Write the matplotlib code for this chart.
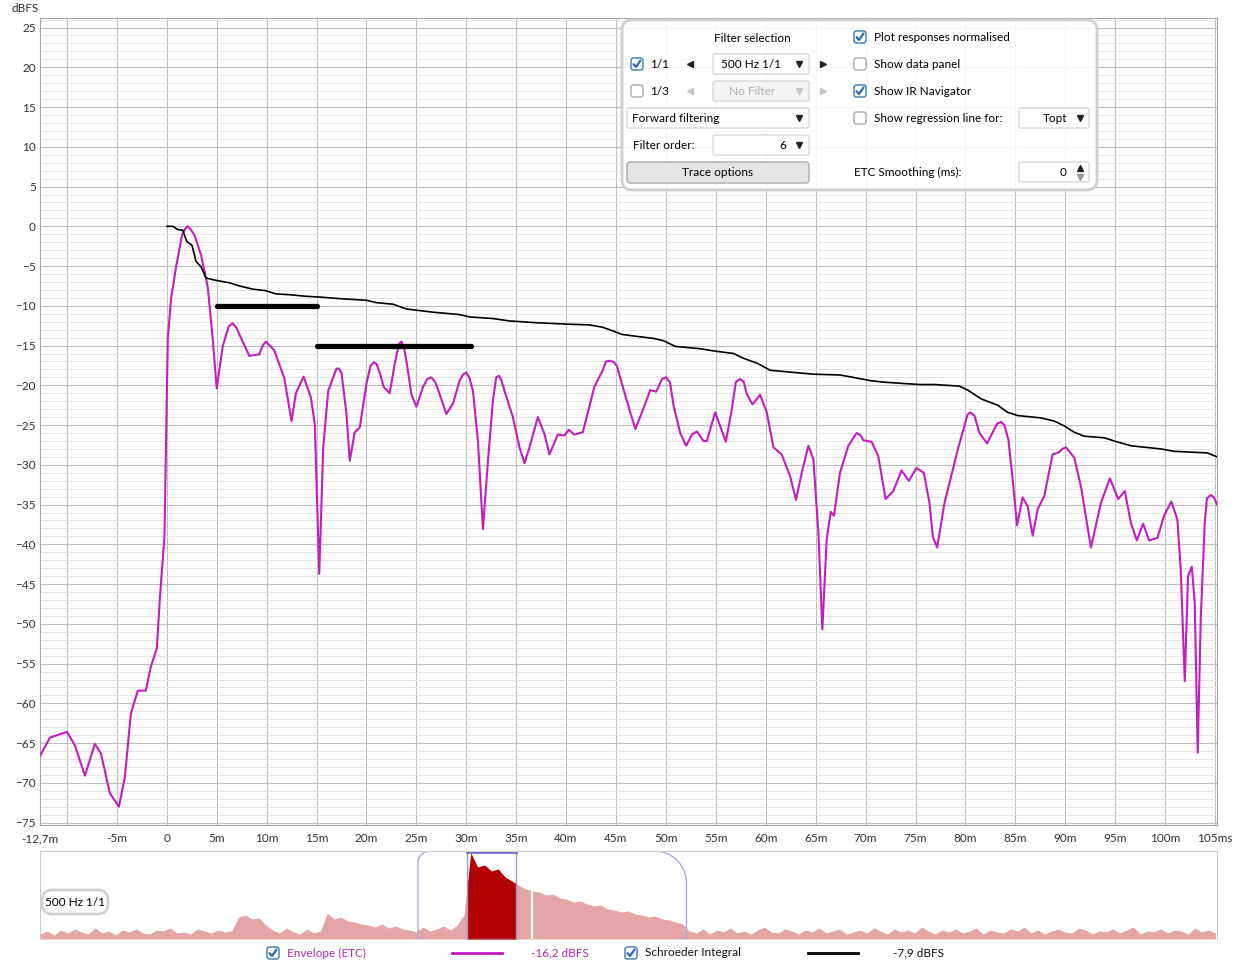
import numpy as np
import matplotlib.pyplot as plt
from matplotlib.patches import FancyBboxPatch, Rectangle
from matplotlib.ticker import MultipleLocator

W, H = 1237, 969
plt.rcParams['font.family'] = ['Lato', 'DejaVu Sans']

# ---- envelope (ETC), 500 Hz 1/1 ----
etc_t = [-12.7, -11.7, -10.0, -9.2, -8.2, -7.2, -6.6, -5.7, -4.8, -4.2, -3.6, -2.9,
         -2.1, -1.6, -1.0, -0.67, -0.23, -0.07, 0.1, 0.43, 0.93, 1.53, 1.85, 2.1, 2.4, 2.77,
         3.43, 4.1, 4.6, 5.0, 5.6, 6.2, 6.6, 7.0, 7.27, 8.27, 9.27, 9.6, 9.93, 10.77, 11.77, 12.5,
         12.93, 13.7, 14.43, 14.83, 15.27, 15.67, 16.17, 17.0, 17.25, 17.5, 18.0, 18.33,
         18.83, 19.33, 20.0, 20.4, 20.73, 21.0, 21.33, 21.73, 22.33, 22.83, 23.25, 23.5, 23.75,
         24.0, 24.5, 25.0, 25.67, 26.1, 26.5, 26.9, 27.33, 28.0, 28.67, 29.33, 29.7, 30.0,
         30.3, 30.67, 31.17, 31.67, 32.17, 32.67, 33.0, 33.27, 33.5, 33.83, 34.67, 35.33,
         35.83, 36.33, 37.17, 37.83, 38.33, 39.17, 39.83, 40.27, 40.83, 41.67, 42.83, 43.67,
         44.0, 44.4, 44.8, 45.1, 45.93, 46.93, 47.6, 48.43, 49.03, 49.6, 50.0, 50.4, 50.77,
         51.43, 52.03, 52.6, 53.1, 53.77, 54.1, 54.93, 55.43, 56.0, 56.6, 57.0, 57.43, 57.8,
         58.1, 58.67, 59.43, 60.1, 60.77, 61.6, 62.43, 63.03, 63.6, 64.27, 64.77, 65.27,
         65.67, 66.1, 66.5, 66.83, 67.43, 68.27, 69.1, 69.5, 69.77, 70.6, 71.27, 72.0, 72.77,
         73.6, 74.33, 75.1, 75.83, 76.4, 76.73, 77.17, 77.9, 78.57, 79.23, 79.9, 80.2, 80.5,
         80.9, 81.4, 82.17, 82.9, 83.2, 83.57, 83.9, 84.3, 84.73, 85.17, 85.73, 86.23, 86.73,
         87.23, 87.9, 88.73, 89.4, 89.7, 90.07, 90.9, 91.57, 92.57, 93.57, 94.47, 95.3,
         95.97, 96.57, 97.17, 97.8, 98.4, 99.23, 99.9, 100.63, 101.23, 101.57, 101.97, 102.3,
         102.67, 102.97, 103.27, 103.57, 103.97, 104.2, 104.57, 104.9, 105.2]
etc_db = [-66.6, -64.3, -63.6, -65.3, -69.1, -65.1, -66.3, -71.3, -73.0, -69.3, -61.3, -58.4,
          -58.4, -55.4, -53.1, -46.4, -38.9, -26.5, -14.1, -9.1, -5.1, -1.1, -0.3, 0.0, -0.4, -1.1,
          -3.6, -7.6, -14.1, -20.4, -15.1, -12.6, -12.2, -12.8, -13.6, -16.3, -16.1, -15.0, -14.5,
          -15.6, -19.1, -24.5,
          -21.0, -18.9, -21.5, -24.9, -43.7, -27.8, -20.7, -17.9, -17.9, -18.4, -23.6, -29.5,
          -25.9, -25.3, -19.8, -17.6, -17.1, -17.3, -18.4, -20.2, -21.0, -17.3, -14.8, -14.5, -15.2,
          -16.9, -21.1, -22.7, -20.2, -19.2, -19.0, -19.6, -21.1, -23.6, -22.3, -19.4, -18.6, -18.4,
          -19.0, -20.7, -27.0, -38.1, -29.5, -21.9, -19.0, -18.8, -19.3, -20.7, -24.0, -27.8,
          -29.8, -27.8, -24.0, -26.1, -28.7, -26.2, -26.3, -25.6, -26.2, -25.9, -20.2, -18.1,
          -17.0, -16.9, -17.1, -17.6, -21.3, -25.5, -23.4, -20.6, -20.8, -19.2, -19.0, -19.6, -22.6,
          -26.0, -27.6, -26.2, -25.8, -27.0, -27.0, -23.4, -25.1, -27.1, -23.0, -19.6, -19.2, -19.6,
          -21.1, -22.4, -21.2, -23.4, -27.8, -28.7, -31.4, -34.4, -31.0, -27.6, -29.3, -38.5,
          -50.7, -39.4, -35.9, -36.4, -31.0, -27.6, -26.0, -26.3, -26.9, -27.1, -28.9, -34.3, -33.3,
          -30.7, -32.0, -30.4, -31.0, -34.8, -39.0, -40.4, -34.8, -31.4, -28.1, -25.1, -23.7, -23.4,
          -23.8, -26.0, -27.3, -25.5, -24.8, -24.6, -25.0, -26.8, -31.8, -37.6, -34.1, -35.2, -38.9,
          -35.6, -33.9, -28.7, -28.4, -28.0, -27.8, -29.1, -32.7, -40.4, -34.8, -31.7, -34.3,
          -33.3, -37.3, -39.5, -37.4, -39.5, -39.2, -36.4, -34.6, -36.9, -43.2, -57.2, -44.0,
          -42.8, -47.3, -66.2, -49.4, -37.3, -34.2, -33.8, -34.1, -35.0]

# ---- Schroeder integral ----
sch_t = [0.0, 0.6, 1.1, 1.6, 2.0, 2.53, 2.93, 3.43, 3.93, 4.93, 6.27, 7.27, 8.6, 9.93,
         10.93, 12.27, 13.93, 15.33, 17.33, 20.0, 21.0, 22.67, 24.0, 26.67, 29.33, 30.33,
         32.67, 34.33, 36.67, 40.0, 42.33, 43.67, 44.77, 45.6, 47.43, 48.77, 49.77, 50.93,
         53.43, 54.93, 56.77, 57.77, 59.1, 60.43, 62.1, 64.77, 67.43, 68.77, 70.43, 71.77,
         75.43, 76.9, 79.4, 80.23, 81.57, 83.23, 84.23, 85.23, 87.57, 88.9, 89.9, 90.9,
         91.9, 93.9, 94.9, 96.57, 99.57, 100.9, 104.23, 105.2]
sch_db = [0.0, 0.0, -0.4, -0.5, -1.9, -2.4, -4.4, -5.1, -6.5, -6.8, -7.1, -7.5, -7.9, -8.1,
          -8.5, -8.6, -8.8, -8.9, -9.1, -9.3, -9.6, -9.8, -10.4, -10.8, -11.1, -11.4,
          -11.6, -11.9, -12.1, -12.3, -12.4, -12.7, -13.2, -13.6, -13.9, -14.1, -14.4, -15.1,
          -15.4, -15.7, -16.0, -16.6, -17.2, -18.1, -18.3, -18.6, -18.7, -19.0, -19.4, -19.6,
          -19.9, -19.9, -20.1, -20.6, -21.7, -22.5, -23.4, -23.8, -24.1, -24.5, -25.1, -25.9,
          -26.4, -26.6, -27.0, -27.6, -28.0, -28.3, -28.5, -29.0]

# thick reference bars
bar_start = [5, 15]
bar_end = [15, 30.5]
bar_level = [-10, -15]

x_ticks = [-12.7, -10, -5, 0, 5, 10, 15, 20, 25, 30, 35, 40, 45, 50, 55, 60, 65, 70,
           75, 80, 85, 90, 95, 100, 105]
x_labels = ['-12,7m', '', '-5m', '0', '5m', '10m', '15m', '20m', '25m', '30m', '35m',
            '40m', '45m', '50m', '55m', '60m', '65m', '70m', '75m', '80m', '85m', '90m',
            '95m', '100m', '105ms']
y_ticks = [25, 20, 15, 10, 5, 0, -5, -10, -15, -20, -25, -30, -35, -40, -45, -50,
           -55, -60, -65, -70, -75]

# ---- IR navigator (overview) ----
nav_t0 = -178.5
nav_step = 3.0
nav_level = [5, 8, 4, 9, 6, 10, 7, 5, 11, 6, 8, 4, 9, 7, 10, 6, 5, 9, 8, 11, 6, 7, 5, 10, 8, 6, 9, 7, 8,
             22, 24, 20, 21, 14,
             9, 6, 11, 7, 5, 10, 6, 8,
             26, 20, 22, 18, 17, 15,
             14, 12, 15, 11, 13, 10,
             9, 7, 12, 8, 10, 13, 9, 14, 24,
             86, 72, 74, 68, 70, 62, 58,
             54, 50, 48, 47, 44, 45, 41, 40, 37, 38, 35, 33, 34, 30, 29, 27, 28, 25, 24,
             22, 23, 20, 19, 17, 15,
             8, 6, 10, 5, 9, 7, 11, 6, 8, 5, 9, 12, 7, 6, 10, 8, 5, 9, 7, 11,
             6, 8, 10, 5, 7, 9, 6, 11, 8, 5, 10, 7, 9, 6, 12, 8, 5, 9, 7, 10,
             6, 8, 11, 5, 9, 7, 6, 10, 8, 12, 6, 9, 5, 8, 10, 7, 6, 11, 9, 5,
             8, 7, 10, 6, 9, 12, 5, 8, 7, 10, 6, 9, 8, 5, 11, 7, 9, 6]
nav_sel = (8.8, 30.3)
nav_window = (-12.7, 105.2)
nav_marker = 37.3

etc_color = '#c21cc2'
sch_color = 'black'
legend_items = [('Envelope (ETC)', etc_color, '#b02ab0', '-16,2 dBFS', 273, 452, 531),
                ('Schroeder Integral', sch_color, '#111111', '-7,9 dBFS', 631, 808, 893)]

fig = plt.figure(figsize=(W / 100, H / 100), dpi=100)

# ---------- main ETC plot ----------
ax = fig.add_axes([40 / W, 1 - 825 / H, 1177 / W, 807 / H])
ax.plot(etc_t, etc_db, color=etc_color, lw=1.5, zorder=3, solid_joinstyle='round')
ax.plot(sch_t, sch_db, color=sch_color, lw=1.2, zorder=3)
ax.hlines(bar_level, bar_start, bar_end, color='black', lw=3.8, zorder=4, capstyle='round')
ax.set_xlim(-12.7, 105.2)
ax.set_ylim(-75.3, 26.2)
ax.set_xticks(x_ticks)
ax.set_xticklabels(x_labels)
ax.set_yticks(y_ticks)
ax.yaxis.set_minor_locator(MultipleLocator(1))
ax.set_axisbelow(True)
ax.grid(which='major', color='#bdbdbd', lw=0.8)
ax.grid(which='minor', axis='y', color='#e4e4e4', lw=0.7)
ax.tick_params(which='both', length=0, labelsize=8.5, colors='#333333')
ax.tick_params(axis='y', pad=3)
ax.tick_params(axis='x', pad=6)
for s in ax.spines.values():
    s.set_color('#a8a8a8')

# ---------- navigator ----------
nav = fig.add_axes([40 / W, 1 - 939 / H, 1177 / W, 88 / H])
nav_t = nav_t0 + nav_step * np.arange(len(nav_level))
nav_lvl = np.array(nav_level, dtype=float)
nav.fill_between(nav_t, 0, nav_lvl, color='#e3a5a5', lw=0)
red = nav.fill_between(nav_t, 0, nav_lvl, color='#b30000', lw=0)
sel_box = Rectangle((nav_sel[0], 0), nav_sel[1] - nav_sel[0], 88, fill=False,
                    ec='#9a9ad8', lw=1)
nav.add_patch(sel_box)
red.set_clip_path(sel_box)
nav.plot([nav_sel[0], nav_sel[1]], [87.5, 87.5], color='#7070d0', lw=2)
nav.axvline(nav_marker, color='white', lw=1.5)
# window bracket with rounded corners
px_per_ms = 1177 / 516.9
r1, r2 = 12, 32
a = np.linspace(np.pi, np.pi / 2, 20)
left_x = nav_window[0] + r1 / px_per_ms * (1 + np.cos(a))
left_y = 88 - r1 + r1 * np.sin(a)
b = np.linspace(np.pi / 2, 0, 30)
right_x = nav_window[1] - r2 / px_per_ms * (1 - np.cos(b))
right_y = 88 - r2 + r2 * np.sin(b)
bx = np.concatenate([[nav_window[0]], left_x, right_x, [nav_window[1]]])
by = np.concatenate([[0], left_y, right_y, [0]])
nav.plot(bx, by, color='#aaaad6', lw=1)
nav.set_xlim(-178.7, 338.2)
nav.set_ylim(0, 88)
nav.set_xticks([])
nav.set_yticks([])
for s in nav.spines.values():
    s.set_color('#cccccc')
nav.spines['bottom'].set_visible(False)

# ---------- overlay for UI elements ----------
ov = fig.add_axes([0, 0, 1, 1])
ov.set_xlim(0, W)
ov.set_ylim(H, 0)
ov.axis('off')

fs = 8.5


def checkbox(x, y, checked):
    ec = '#3b78b5' if checked else '#a9a9a9'
    ov.add_patch(FancyBboxPatch((x - 6, y - 6), 12, 12, boxstyle='round,pad=0,rounding_size=2.5',
                                fc='white', ec=ec, lw=1))
    if checked:
        ov.plot([x - 3.5, x - 1, x + 3.5], [y + 0.2, y + 3, y - 3.5], color='#2c6bb0', lw=1.6,
                solid_capstyle='round', solid_joinstyle='round')


def field(x0, x1, y, fc='white'):
    ov.add_patch(FancyBboxPatch((x0, y - 10), x1 - x0, 20, boxstyle='round,pad=0,rounding_size=2',
                                fc=fc, ec='#d8d8d8', lw=1))


def tri(x, y, m, c='#222222', ms=4.5):
    ov.plot([x], [y], marker=m, ms=ms, color=c, mec=c)


ov.text(12, 8, 'dBFS', fontsize=fs, va='center', ha='left', color='#333333')

# control panel
ov.add_patch(FancyBboxPatch((622, 20), 475, 170, boxstyle='round,pad=0,rounding_size=10',
                            fc=(1, 1, 1, 0.86), ec='#cfcfcf', lw=2))
ov.text(752, 38, 'Filter selection', fontsize=fs, ha='center', va='center')
checkbox(637, 64, True)
ov.text(650, 64, '1/1', fontsize=fs, va='center')
tri(690, 64, '<')
field(713, 809, 64)
ov.text(751, 64, '500 Hz 1/1', fontsize=fs, ha='center', va='center')
tri(799, 64, 'v')
tri(823, 64, '>')
checkbox(637, 91, False)
ov.text(650, 91, '1/3', fontsize=fs, va='center')
tri(690, 91, '<', '#c4c4c4')
field(713, 809, 91, fc='#f3f3f3')
ov.text(752, 91, 'No Filter', fontsize=fs, ha='center', va='center', color='#b0b0b0')
tri(799, 91, 'v', '#c4c4c4')
tri(823, 91, '>', '#c4c4c4')
field(627, 809, 118)
ov.text(632, 118, 'Forward filtering', fontsize=fs, va='center')
tri(799, 118, 'v')
ov.text(633, 145, 'Filter order:', fontsize=fs, va='center')
field(713, 809, 145)
ov.text(786, 145, '6', fontsize=fs, ha='right', va='center')
tri(799, 145, 'v')
ov.add_patch(FancyBboxPatch((627, 162), 182, 21, boxstyle='round,pad=0,rounding_size=3',
                            fc='#e4e4e4', ec='#acacac', lw=1))
ov.text(718, 172.5, 'Trace options', fontsize=fs, ha='center', va='center')

right_rows = [(37, 'Plot responses normalised', True), (64, 'Show data panel', False),
              (91, 'Show IR Navigator', True), (118, 'Show regression line for:', False)]
for y, label, chk in right_rows:
    checkbox(860, y, chk)
    ov.text(874, y, label, fontsize=fs, va='center')
field(1019, 1089, 118)
ov.text(1067, 118, 'Topt', fontsize=fs, ha='right', va='center')
tri(1080, 118, 'v')
ov.text(854, 172, 'ETC Smoothing (ms):', fontsize=fs, va='center')
field(1019, 1089, 172)
ov.text(1066, 172, '0', fontsize=fs, ha='right', va='center')
tri(1080, 168, '^', ms=4)
tri(1080, 176.5, 'v', '#9a9a9a', ms=4)

# navigator label
ov.add_patch(FancyBboxPatch((42, 890), 66, 24, boxstyle='round,pad=0,rounding_size=10',
                            fc='white', ec='#d2d2d2', lw=2))
ov.text(75, 902, '500 Hz 1/1', fontsize=fs, ha='center', va='center')

# legend
for label, lc, tc, val, cx, lx, vx in legend_items:
    checkbox(cx, 953, True)
    ov.text(cx + 14, 953, label, fontsize=fs, va='center', color=tc)
    ov.plot([lx, lx + 50], [953, 953], color=lc, lw=2)
    ov.text(vx, 953, val, fontsize=fs, va='center', color=tc)

fig.savefig('out.png', dpi=100)
